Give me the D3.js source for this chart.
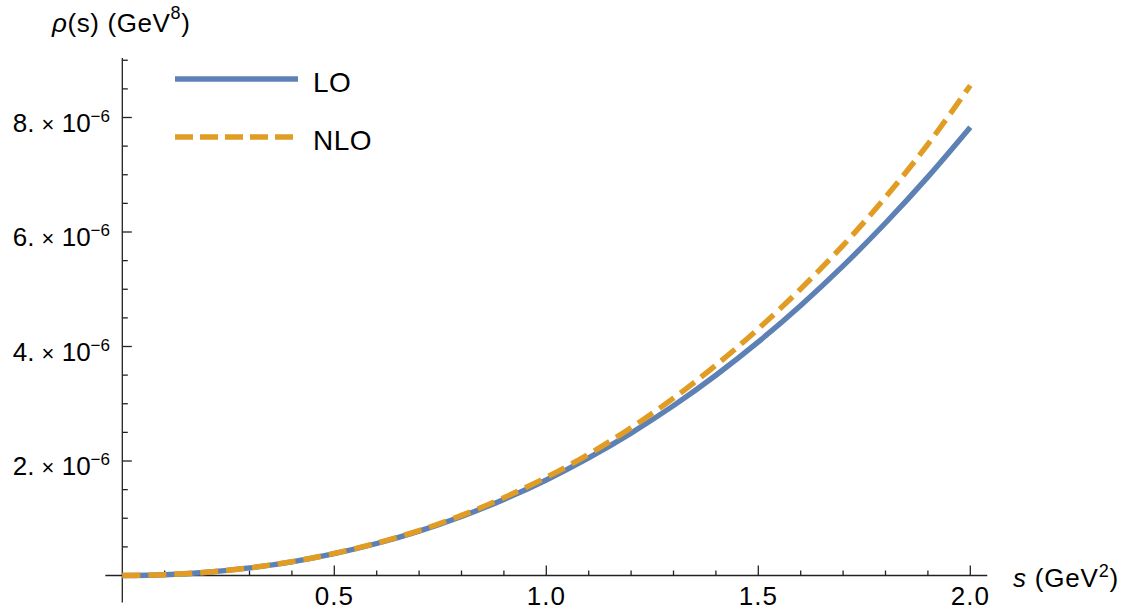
<!DOCTYPE html>
<html>
<head>
<meta charset="utf-8">
<script src="https://cdn.jsdelivr.net/npm/d3@7/dist/d3.min.js"></script>
<style>
  html, body { margin: 0; padding: 0; background: #fff; }
  svg { display: block; font-family: "Liberation Sans", Arial, Helvetica, sans-serif; }
</style>
</head>
<body>
<svg id="chart" width="1124" height="616"></svg>
<script>
// s in GeV^2
const sValues = [0, 0.1, 0.2, 0.3, 0.4, 0.5, 0.6, 0.7, 0.8, 0.9, 1.0,
                 1.1, 1.2, 1.3, 1.4, 1.5, 1.6, 1.7, 1.8, 1.9, 2.0];
// spectral density rho(s) in units of 1e-6 GeV^8
const loValues  = [0, 0.0141, 0.0575, 0.132, 0.239, 0.381, 0.559, 0.775, 1.031, 1.329, 1.669,
                   2.054, 2.487, 2.967, 3.498, 4.080, 4.717, 5.408, 6.157, 6.963, 7.830];
const nloValues = [0, 0.0141, 0.0578, 0.133, 0.241, 0.385, 0.566, 0.785, 1.050, 1.360, 1.714,
                   2.119, 2.582, 3.097, 3.673, 4.310, 5.007, 5.768, 6.607, 7.533, 8.560];
const seriesNames = ["LO", "NLO"];
const xMajorTicks = [0.5, 1.0, 1.5, 2.0];
const xTickLabels = ["0.5", "1.0", "1.5", "2.0"];
const yMajorTicks = [2, 4, 6, 8];
const yTickMantissa = ["2.", "4.", "6.", "8."];
const yTickExponent = "\u22126";
const xPlotRange = [-0.04, 2.04];
const yPlotRange = [-0.47, 9.04];

const svg = d3.select("#chart");
const x = d3.scaleLinear().domain([0, 2]).range([122.3, 970.3]);
const y = d3.scaleLinear().domain([0, 8]).range([575.5, 117.5]);

const axisColor = "#222";
const colors = { LO: "#5E81B5", NLO: "#E19C24" };

// axis lines
const axes = svg.append("g").attr("stroke", axisColor).attr("stroke-width", 1.3);
axes.append("line")
  .attr("x1", x(xPlotRange[0])).attr("x2", x(xPlotRange[1]))
  .attr("y1", y(0)).attr("y2", y(0));
axes.append("line")
  .attr("x1", x(0)).attr("x2", x(0))
  .attr("y1", y(yPlotRange[0])).attr("y2", y(yPlotRange[1]));

// x ticks: minor every 0.1, major at labelled values
const xMinor = d3.range(1, 21).map(i => i / 10).filter(v => !xMajorTicks.some(m => Math.abs(m - v) < 1e-9));
axes.selectAll(".xminor").data(xMinor).join("line")
  .attr("x1", d => x(d)).attr("x2", d => x(d))
  .attr("y1", y(0)).attr("y2", y(0) - 5);
axes.selectAll(".xmajor").data(xMajorTicks).join("line")
  .attr("x1", d => x(d)).attr("x2", d => x(d))
  .attr("y1", y(0)).attr("y2", y(0) - 10);

// y ticks: minor every 0.5, major at labelled values
const yMinor = d3.range(1, 19).map(i => i / 2).filter(v => !yMajorTicks.includes(v));
axes.selectAll(".yminor").data(yMinor).join("line")
  .attr("x1", x(0)).attr("x2", x(0) + 5.5)
  .attr("y1", d => y(d)).attr("y2", d => y(d));
axes.selectAll(".ymajor").data(yMajorTicks).join("line")
  .attr("x1", x(0)).attr("x2", x(0) + 9.5)
  .attr("y1", d => y(d)).attr("y2", d => y(d));

// x tick labels
svg.append("g").selectAll("text").data(xMajorTicks).join("text")
  .attr("x", d => x(d)).attr("y", 605)
  .attr("text-anchor", "middle")
  .attr("font-size", 26).attr("letter-spacing", 1).attr("fill", "#000")
  .text((d, i) => xTickLabels[i]);

// y tick labels: "n. × 10^-6"
const yLab = svg.append("g").selectAll("text").data(yMajorTicks).join("text")
  .attr("x", 110).attr("y", d => y(d) + 14)
  .attr("text-anchor", "end")
  .attr("font-size", 26).attr("fill", "#000");
yLab.append("tspan").text((d, i) => yTickMantissa[i] + " ");
yLab.append("tspan").attr("font-size", 22).text("\u00D7");
yLab.append("tspan").text(" 10");
yLab.append("tspan").attr("font-size", 17).attr("dy", -10).text(yTickExponent);

// axis titles
const yTitle = svg.append("text").attr("x", 52).attr("y", 32)
  .attr("font-size", 26).attr("letter-spacing", 0.6).attr("fill", "#000");
yTitle.append("tspan").attr("font-style", "italic").text("\u03C1");
yTitle.append("tspan").text("(s) (GeV");
yTitle.append("tspan").attr("font-size", 18).attr("dy", -13).text("8");
yTitle.append("tspan").attr("dy", 13).text(")");

const xTitle = svg.append("text").attr("x", 1013).attr("y", 587)
  .attr("font-size", 26).attr("letter-spacing", 0.8).attr("fill", "#000");
xTitle.append("tspan").attr("font-style", "italic").text("s");
xTitle.append("tspan").text(" (GeV");
xTitle.append("tspan").attr("font-size", 18).attr("dy", -10).text("2");
xTitle.append("tspan").attr("dy", 10).text(")");

// curves
const line = d3.line()
  .x(d => x(d[0]))
  .y(d => y(d[1]))
  .curve(d3.curveMonotoneX);

svg.append("path")
  .datum(sValues.map((s, i) => [s, loValues[i]]))
  .attr("d", line)
  .attr("fill", "none")
  .attr("stroke", colors.LO)
  .attr("stroke-width", 5.4);

svg.append("path")
  .datum(sValues.map((s, i) => [s, nloValues[i]]))
  .attr("d", line)
  .attr("fill", "none")
  .attr("stroke", colors.NLO)
  .attr("stroke-width", 5.4)
  .attr("stroke-dasharray", "18,8");

// legend
const legend = svg.append("g");
const legendRows = [
  { name: seriesNames[0], y: 79, x2: 298, dash: null },
  { name: seriesNames[1], y: 137, x2: 293, dash: "18,7" }
];
legendRows.forEach(r => {
  legend.append("line")
    .attr("x1", 175).attr("x2", r.x2)
    .attr("y1", r.y).attr("y2", r.y)
    .attr("stroke", colors[r.name])
    .attr("stroke-width", 5.4)
    .attr("stroke-dasharray", r.dash);
  legend.append("text")
    .attr("x", 313).attr("y", r.y + 13)
    .attr("font-size", 28).attr("letter-spacing", 0.5).attr("fill", "#000")
    .text(r.name);
});
</script>
</body>
</html>
